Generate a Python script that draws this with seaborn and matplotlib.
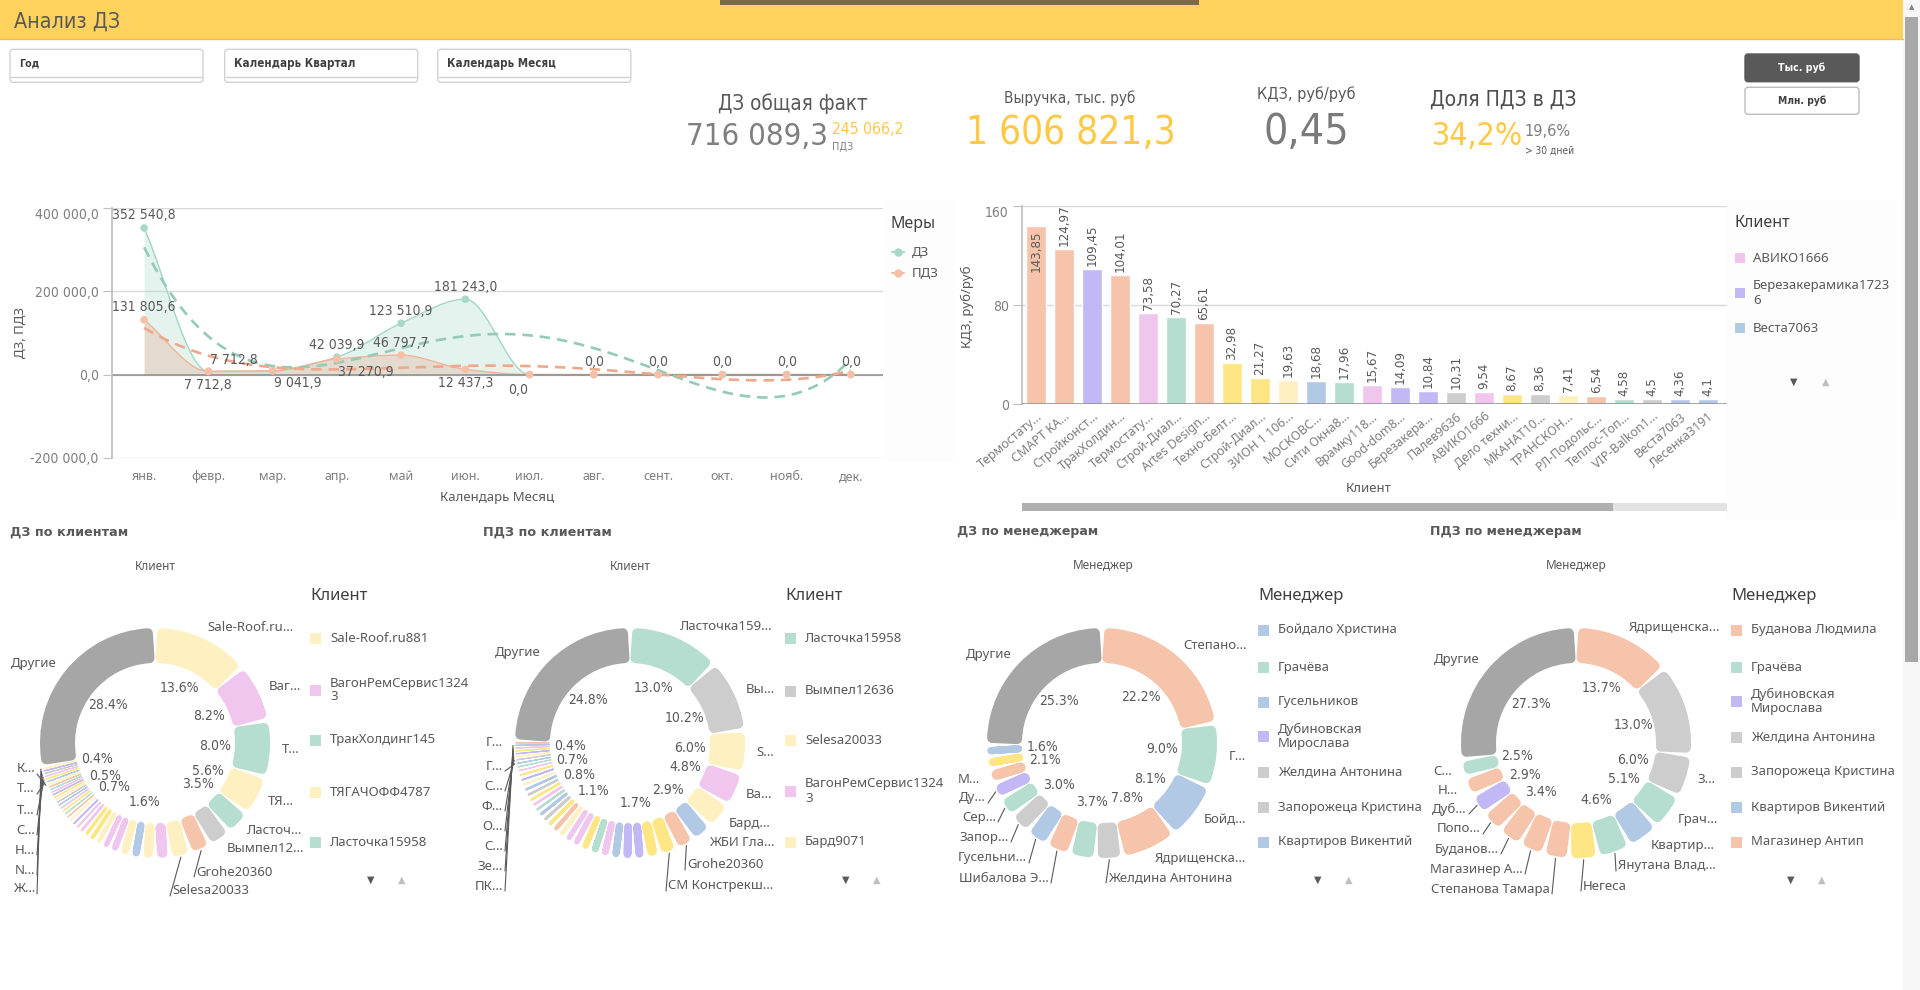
import os
import numpy as np
import pandas as pd
import matplotlib
matplotlib.use('Agg')
import matplotlib.pyplot as plt
import seaborn as sns
from matplotlib import font_manager as fm
from matplotlib.patches import Rectangle, FancyBboxPatch

W, H = 1920, 990

# ---------------- data ----------------
kpi_dz_total = 716089.3
kpi_pdz_total = 245066.2
kpi_revenue = 1606821.3
kpi_kdz = 0.45
kpi_pdz_share = 34.2
kpi_pdz_30 = 19.6

filters = ['Год', 'Календарь Квартал', 'Календарь Месяц']

months = ['янв.', 'февр.', 'мар.', 'апр.', 'май', 'июн.', 'июл.', 'авг.', 'сент.', 'окт.', 'нояб.', 'дек.']
dz_month = [352540.8, 7712.8, 9041.9, 42039.9, 123510.9, 181243.0, 0.0, 0.0, 0.0, 0.0, 0.0, 0.0]
pdz_month = [131805.6, 7712.8, 9041.9, 37270.9, 46797.7, 12437.3, 0.0, 0.0, 0.0, 0.0, 0.0, 0.0]
# where each value label sits: a=above, b=below, ar/br=right of point, bl=left of point
dz_label_pos = ['a', 'b', 'br', 'a', 'a', 'a', 'bl', '', '', '', '', '']
pdz_label_pos = ['a', 'ar', '', 'br', 'a', 'b', '', 'a', 'a', 'a', 'a', 'a']

bar_clients = ['Термостату…', 'СМАРТ КА…', 'Стройконст…', 'ТракХолдин…', 'Термостату…',
               'Строй-Диал…', 'Artes Design…', 'Техно-Белт…', 'Строй-Диал…', 'ЗИОН 1 106…',
               'МОСКОВС…', 'Сити Окна8…', 'Врамку118…', 'Good-dom8…', 'Березакера…',
               'Палев9636', 'АВИКО1666', 'Дело техни…', 'МКАНАТ10…', 'ТРАНСКОН…',
               'РЛ-Подольс…', 'Теплос-Топ…', 'VIP-Balkon1…', 'Веста7063', 'Лесенка3191']
bar_kdz = [143.85, 124.97, 109.45, 104.01, 73.58, 70.27, 65.61, 32.98, 21.27, 19.63,
           18.68, 17.96, 15.67, 14.09, 10.84, 10.31, 9.54, 8.67, 8.36, 7.41,
           6.54, 4.58, 4.5, 4.36, 4.1]
bar_colors = 'sa sa pu sa pk gn sa ye ye ly bl gn pk pu pu gy pk ye gy ly sa gn gy bl bl'.split()
bar_legend = [('АВИКО1666', 'pk'), ('Березакерамика1723\n6', 'pu'), ('Веста7063', 'bl')]

# ДЗ по клиентам (clockwise from 12 o'clock, share in %)
dz_cli_values = [13.6, 8.2, 8.0, 5.6, 3.5, 3.2, 2.9, 2.9, 2.1, 1.9, 1.6, 1.6, 1.4, 1.2, 1.1,
                 1.0, 0.9, 0.8, 0.7, 0.7, 0.6, 0.6, 0.5, 0.5, 0.5, 0.5,
                 0.4, 0.4, 0.4, 0.4, 0.4, 0.4, 0.4, 0.4, 0.4, 0.4, 0.4, 0.4, 0.35, 0.35, 28.4]
dz_cli_colors = ('ly pk gn ly gn gy sa ly pk ly bl ly pk pk ly ye ye pk pk pu ly sa gn ye pk bl '
                 'gy ly ye pu pk gn sa ly bl ye pk gy pu ly dg').split()
dz_cli_pct = [0, 1, 2, 3, 4, 10, 18, 25, 37, 40]
dz_cli_names = {0: 'Sale-Roof.ru…', 1: 'Ваг…', 2: 'Т…', 3: 'ТЯ…', 4: 'Ласточ…', 5: 'Вымпел12…', 40: 'Другие'}
dz_cli_lead_names = {6: 'Grohe20360', 7: 'Selesa20033', 33: 'К…', 34: 'Т…', 35: 'Т…', 36: 'С…',
                     37: 'Н…', 38: 'N…', 39: 'Ж…'}
dz_cli_legend = [('Sale-Roof.ru881', 'ly'), ('ВагонРемСервис1324\n3', 'pk'), ('ТракХолдинг145', 'gn'),
                 ('ТЯГАЧОФФ4787', 'ly'), ('Ласточка15958', 'gn')]

# ПДЗ по клиентам
pdz_cli_values = [13.0, 10.2, 6.0, 4.8, 3.8, 2.9, 2.6, 2.5, 2.0, 1.7, 1.7, 1.6, 1.5, 1.5, 1.4, 1.3,
                  1.2, 1.1, 1.1, 1.0, 0.9, 0.9, 0.8, 0.8, 0.8, 0.8, 0.8, 0.7, 0.7, 0.7,
                  0.6, 0.5, 0.5, 0.5, 0.4, 0.4, 0.4, 0.4, 0.35, 0.35, 24.8]
pdz_cli_colors = ('gn gy ly pk ly bl sa ye ye pu pu bl pk gn ye pk pk ly sa ye '
                  'gy bl gn pk ye gy bl ly pu ye pk gn bl gy ly pu ye pk bl sa dg').split()
pdz_cli_pct = [0, 1, 2, 3, 5, 9, 17, 23, 29, 37, 40]
pdz_cli_names = {0: 'Ласточка159…', 1: 'Вы…', 2: 'S…', 3: 'Ва…', 4: 'Бард…', 5: 'ЖБИ Гла…',
                 39: 'Г…', 40: 'Другие'}
pdz_cli_lead_names = {6: 'Grohe20360', 7: 'СМ Констрекш…', 32: 'Г…', 33: 'С…', 34: 'Ф…', 35: 'О…',
                      36: 'С…', 37: 'Зе…', 38: 'ПК…'}
pdz_cli_legend = [('Ласточка15958', 'gn'), ('Вымпел12636', 'gy'), ('Selesa20033', 'ly'),
                  ('ВагонРемСервис1324\n3', 'pk'), ('Бард9071', 'ly')]

# ДЗ по менеджерам
dz_man_values = [22.2, 9.0, 8.1, 7.8, 3.8, 3.7, 3.4, 3.2, 3.0, 2.8, 2.3, 2.1, 1.7, 1.6, 25.3]
dz_man_colors = 'sa gn bl sa gy gn sa bl gy gn pu sa ye bl dg'.split()
dz_man_pct = [0, 1, 2, 3, 5, 8, 11, 13, 14]
dz_man_names = {0: 'Степано…', 1: 'Г…', 2: 'Бойд…', 3: 'Ядрищенска…', 11: 'М…', 14: 'Другие'}
dz_man_lead_names = {4: 'Желдина Антонина', 6: 'Шибалова Э…', 7: 'Гусельни…', 8: 'Запор…',
                     9: 'Сер…', 10: 'Ду…'}
dz_man_legend = [('Бойдало Христина', 'bl'), ('Грачёва', 'gn'), ('Гусельников', 'bl'),
                 ('Дубиновская\nМирослава', 'pu'), ('Желдина Антонина', 'gy'),
                 ('Запорожеца Кристина', 'gy'), ('Квартиров Викентий', 'bl')]

# ПДЗ по менеджерам
pdz_man_values = [13.7, 13.0, 6.0, 5.1, 4.5, 4.6, 4.1, 3.6, 3.5, 3.4, 3.1, 2.9, 2.7, 2.5, 27.3]
pdz_man_colors = 'sa gy gy gn bl gn ye sa sa sa sa pu sa gn dg'.split()
pdz_man_pct = [0, 1, 2, 3, 5, 9, 11, 13, 14]
pdz_man_names = {0: 'Ядрищенска…', 2: 'З…', 3: 'Грач…', 4: 'Квартир…', 12: 'Н…', 13: 'С…', 14: 'Другие'}
pdz_man_lead_names = {5: 'Янутана Влад…', 6: 'Негеса', 7: 'Степанова Тамара', 8: 'Магазинер А…',
                      9: 'Буданов…', 10: 'Попо…', 11: 'Дуб…'}
pdz_man_legend = [('Буданова Людмила', 'sa'), ('Грачёва', 'gn'), ('Дубиновская\nМирослава', 'pu'),
                  ('Желдина Антонина', 'gy'), ('Запорожеца Кристина', 'gy'),
                  ('Квартиров Викентий', 'bl'), ('Магазинер Антип', 'sa')]

# ---------------- style ----------------
PAL = {'sa': '#F6C4AA', 'pk': '#F0C6EE', 'pu': '#C1B8F5', 'gn': '#B5DDD0', 'ye': '#FFE685',
       'ly': '#FFF0C2', 'bl': '#B2C9E5', 'gy': '#CDCDCD', 'dg': '#A6A6A6'}
DARK = '#595959'
GRAY = '#7F7F7F'
YELLOW = '#FFC845'

sns.set_theme(style='white')
plt.rcParams['font.family'] = ['Noto Sans', 'DejaVu Sans']
plt.rcParams['axes.unicode_minus'] = False


def font_file(candidates):
    files = {os.path.basename(f.fname): f.fname for f in fm.fontManager.ttflist}
    for c in candidates:
        if c in files:
            return files[c]
    return None


cond_reg = font_file(['LiberationSansNarrow-Regular.ttf', 'NotoSans-Condensed.ttf',
                      'NotoSans-SemiCondensed.ttf', 'DejaVuSansCondensed.ttf',
                      'RobotoCondensed-Regular.ttf', 'OpenSans-CondensedRegular.ttf'])
cond_bold = font_file(['LiberationSansNarrow-Bold.ttf', 'NotoSans-CondensedBold.ttf',
                       'NotoSans-SemiCondensedBold.ttf', 'DejaVuSansCondensed-Bold.ttf',
                       'RobotoCondensed-Bold.ttf', 'OpenSans-CondensedBold.ttf'])


def fp_cond(bold=False):
    f = cond_bold if bold else cond_reg
    if f:
        return fm.FontProperties(fname=f)
    return fm.FontProperties(family='DejaVu Sans', weight='bold' if bold else 'normal')


def fp_num():
    if cond_reg:
        return fm.FontProperties(fname=cond_reg)
    return fm.FontProperties(family='DejaVu Sans Mono')


NK = 1.0 if cond_reg else 0.8


def ru(v, d=1):
    return f'{v:,.{d}f}'.replace(',', ' ').replace('.', ',')


def px_rect(l, t, r, b):
    return [l / W, 1 - b / H, (r - l) / W, (b - t) / H]


def smooth(y, xs):
    # monotone cubic through the points, only for drawing the curve
    y = np.asarray(y, float)
    d = np.diff(y)
    m = np.zeros_like(y)
    for k in range(1, len(y) - 1):
        if d[k - 1] * d[k] > 0:
            m[k] = 2 / (1 / d[k - 1] + 1 / d[k])
    m[0], m[-1] = d[0], d[-1]
    i = np.clip(np.floor(xs).astype(int), 0, len(y) - 2)
    t = xs - i
    return ((2 * t**3 - 3 * t**2 + 1) * y[i] + (t**3 - 2 * t**2 + t) * m[i]
            + (-2 * t**3 + 3 * t**2) * y[i + 1] + (t**3 - t**2) * m[i + 1])


fig = plt.figure(figsize=(W / 100, H / 100), dpi=100)
cv = fig.add_axes([0, 0, 1, 1])
cv.set_xlim(0, W)
cv.set_ylim(H, 0)
cv.axis('off')
rend = fig.canvas.get_renderer()


def txt(x, y, s, size, color=DARK, ha='left', va='center', **kw):
    return cv.text(x, y, s, fontsize=size, color=color, ha=ha, va=va, **kw)


def fit(x, y, s, width, color=DARK, ha='left', va='center', fp=None, **kw):
    t = cv.text(x, y, s, color=color, ha=ha, va=va, fontproperties=fp or fp_cond(), **kw)
    t.set_fontsize(10)
    w = t.get_window_extent(renderer=rend).width
    t.set_fontsize(10 * width / w)
    return t


# ---------------- header ----------------
cv.add_patch(Rectangle((0, 0), 1903, 39, color='#FFD25E', lw=0))
cv.plot([0, 1903], [39, 39], color='#E9C15C', lw=1)
cv.add_patch(Rectangle((720, 0), 479, 4.5, color='#7A6A46', lw=0))
fit(13.5, 21.5, 'Анализ ДЗ', 106)

# scrollbar at the right
cv.add_patch(Rectangle((1903, 0), 17, H, color='#F7F7F7', lw=0))
cv.add_patch(Rectangle((1905, 17), 13, 645, color='#A8A8A8', lw=0))
txt(1911.5, 7, '▲', 5, color=GRAY, ha='center', family='DejaVu Sans')

# filter boxes
for x0, name, wd in zip([10, 224.7, 437.8], filters, [20.5, 119.4, 107.8]):
    cv.add_patch(FancyBboxPatch((x0, 49.3), 193, 33, boxstyle='round,pad=0,rounding_size=3',
                                fc='white', ec='#D2D2D2', lw=1))
    cv.plot([x0 + 1, x0 + 192], [77.3, 77.3], color='#D2D2D2', lw=1)
    fit(x0 + 9.5, 64, name, wd, color='#404040', fp=fp_cond(True))

# KPIs
fit(793, 104, 'ДЗ общая факт', 150, ha='center')
fit(686, 136.7, ru(kpi_dz_total), 142, color=GRAY)
fit(831.6, 130, ru(kpi_pdz_total), 71.4, color=YELLOW)
fit(832, 146.7, 'ПДЗ', 21, color=GRAY)
fit(1070, 98.3, 'Выручка, тыс. руб', 131, ha='center')
fit(1071, 132.7, ru(kpi_revenue), 209.6, color=YELLOW, ha='center')
fit(1306, 94, 'КДЗ, руб/руб', 98, ha='center')
fit(1306, 131.7, ru(kpi_kdz, 2), 86, color='#7A7A7A', ha='center')
fit(1503.6, 100, 'Доля ПДЗ в ДЗ', 147, ha='center', color='#4D4D4D')
fit(1431.5, 136.7, ru(kpi_pdz_share) + '%', 90.5, color=YELLOW)
fit(1524.6, 131, ru(kpi_pdz_30) + '%', 46.4, color=GRAY)
fit(1524.6, 150.7, '> 30 дней', 49, color=DARK)

# unit buttons
BX0, BX1 = 1745, 1859
cv.add_patch(FancyBboxPatch((BX0, 54), BX1 - BX0, 27.7, boxstyle='round,pad=0,rounding_size=3',
                            fc='#595959', ec='#595959', lw=1))
cv.add_patch(FancyBboxPatch((BX0, 87.3), BX1 - BX0, 27, boxstyle='round,pad=0,rounding_size=3',
                            fc='white', ec='#BDBDBD', lw=1))
fit((BX0 + BX1) / 2, 68, 'Тыс. руб', 47, color='white', ha='center', fp=fp_cond(True))
fit((BX0 + BX1) / 2, 101, 'Млн. руб', 48, color='#404040', ha='center', fp=fp_cond(True))

# ---------------- line chart ----------------
axl = fig.add_axes(px_rect(112, 208.3, 883, 457.7))
axl.set_facecolor('none')
x = np.arange(len(months))
xs = np.linspace(0, len(months) - 1, 700)
dz_s = smooth(dz_month, xs)
pdz_s = smooth(pdz_month, xs)
axl.fill_between(xs, 0, dz_s, color='#B5DDD0', alpha=0.35, lw=0, zorder=1)
axl.fill_between(xs, 0, pdz_s, color='#E0B9A3', alpha=0.4, lw=0, zorder=1)
axl.plot(xs, dz_s, color='#A3D6C4', lw=1.0, zorder=2)
axl.plot(xs, pdz_s, color='#F4B395', lw=1.0, zorder=2)

dz_trend = np.polyval(np.polyfit(x, dz_month, 4), xs)
pdz_trend = np.polyval(np.polyfit(x, pdz_month, 4), xs)
sns.lineplot(x=xs, y=dz_trend, ax=axl, color='#93CBB7', lw=1.9, linestyle=(0, (4, 2.6)), zorder=3)
sns.lineplot(x=xs, y=pdz_trend, ax=axl, color='#EDA98B', lw=1.9, linestyle=(0, (4, 2.6)), zorder=3)
sns.scatterplot(x=x, y=dz_month, ax=axl, color='#A8D9C7', s=30, edgecolor='none', zorder=5)
sns.scatterplot(x=x, y=pdz_month, ax=axl, color='#F7BFA5', s=30, edgecolor='none', zorder=5)

OFF = {'a': ((0, 4), 'center', 'bottom'), 'b': ((0, -5), 'center', 'top'),
       'ar': ((1, 3), 'left', 'bottom'), 'br': ((1, -4), 'left', 'top'),
       'bl': ((-1, -6), 'right', 'top')}
for vals, poss in [(dz_month, dz_label_pos), (pdz_month, pdz_label_pos)]:
    for i, (v, p) in enumerate(zip(vals, poss)):
        if not p:
            continue
        (dx, dy), ha, va = OFF[p]
        axl.annotate(ru(v), (i, v), xytext=(dx, dy), textcoords='offset points', ha=ha, va=va,
                     fontproperties=fp_num(), fontsize=10 * NK, color=DARK, zorder=6)

axl.set_xlim(-0.5, len(months) - 0.5)
axl.set_ylim(-200000, 400000)
yt = [-200000, 0, 200000, 400000]
axl.set_yticks(yt)
axl.set_yticklabels([ru(v) for v in yt], fontproperties=fp_num(), fontsize=10 * NK, color=GRAY)
axl.get_yticklabels()[-1].set_va('top')
axl.set_xticks(x)
axl.set_xticklabels(months, fontsize=9, color=GRAY)
axl.yaxis.grid(True, color='#D9D9D9', lw=1)
axl.axhline(0, color='#8C8C8C', lw=1.1, zorder=2)
axl.tick_params(axis='y', length=6.5, width=0.8, color='#BFBFBF', pad=3, left=True)
axl.tick_params(axis='x', length=0, pad=9)
for s in ['top', 'right', 'bottom']:
    axl.spines[s].set_visible(False)
axl.spines['left'].set_color('#BFBFBF')
axl.set_xlabel('')
axl.set_ylabel('')
txt(20, 333, 'ДЗ, ПДЗ', 9.5, rotation=90, ha='center')
txt(497.5, 497, 'Календарь Месяц', 9.5, ha='center')

# legend of the line chart
cv.add_patch(Rectangle((883, 200), 72, 262, color='#FDFDFD', lw=0))
txt(891, 224, 'Меры', 11.5, color='#404040')
for yy, name, col in [(252, 'ДЗ', '#A8D9C7'), (273, 'ПДЗ', '#F7BFA5')]:
    cv.plot([892, 904], [yy, yy], color=col, lw=1.5)
    cv.plot([898], [yy], 'o', color=col, ms=5)
    txt(912, yy, name, 9.5)

# ---------------- bar chart ----------------
axb = fig.add_axes(px_rect(1022, 206, 1727, 404.3))
axb.set_facecolor('none')
bar_ids = [f'c{i:02d}' for i in range(len(bar_kdz))]
df_bar = pd.DataFrame({'id': bar_ids, 'kdz': bar_kdz})
sns.barplot(data=df_bar, x='id', y='kdz', hue='id', order=bar_ids, legend=False,
            palette=dict(zip(bar_ids, [PAL[c] for c in bar_colors])), saturation=1,
            width=0.71, ax=axb, zorder=2)
axb.set_xlim(-0.5, 24.67)
axb.set_ylim(0, 160)
units_px = 160 / (404.3 - 206)
for i, v in enumerate(bar_kdz):
    s = f'{v:.2f}'.rstrip('0').rstrip('.').replace('.', ',')
    if v + 3 * units_px + len(s) * 5.8 * units_px > 160:
        axb.text(i, v - 4 * units_px, s, rotation=90, ha='center', va='top',
                 fontproperties=fp_num(), fontsize=9.5 * NK, color=DARK, zorder=4)
    else:
        axb.text(i, v + 3 * units_px, s, rotation=90, ha='center', va='bottom',
                 fontproperties=fp_num(), fontsize=9.5 * NK, color=DARK, zorder=4)
axb.set_yticks([0, 80, 160])
axb.set_yticklabels(['0', '80', '160'], fontproperties=fp_num(), fontsize=10 * NK, color=GRAY)
axb.get_yticklabels()[-1].set_va('top')
axb.set_xticks(range(len(bar_clients)))
axb.set_xticklabels(bar_clients, rotation=40, ha='right', rotation_mode='anchor',
                    fontsize=9, color=GRAY)
axb.yaxis.grid(True, color='#D9D9D9', lw=1, zorder=0)
axb.axhline(0, color='#8C8C8C', lw=1.1, zorder=3)
axb.tick_params(axis='y', length=6.5, width=0.8, color='#BFBFBF', pad=3, left=True)
axb.tick_params(axis='x', length=0, pad=4)
for s in ['top', 'right', 'bottom']:
    axb.spines[s].set_visible(False)
axb.spines['left'].set_color('#BFBFBF')
axb.set_xlabel('')
axb.set_ylabel('')
txt(967, 307, 'КДЗ, руб/руб', 9.5, rotation=90, ha='center')
txt(1369, 489, 'Клиент', 9.5, ha='center')
cv.add_patch(Rectangle((1022, 503), 705, 8, color='#E3E3E3', lw=0))
cv.add_patch(Rectangle((1022, 503), 591, 8, color='#B0B0B0', lw=0))

cv.add_patch(Rectangle((1727, 200), 170, 320, color='#FDFDFD', lw=0))
txt(1735, 223, 'Клиент', 11.5, color='#404040')
for yy, (name, ck) in zip([258, 293, 328], bar_legend):
    cv.add_patch(Rectangle((1735, yy - 5), 10, 10, color=PAL[ck], lw=0))
    txt(1753, yy, name, 9.5, linespacing=1.1)
txt(1794, 382, '▼', 7, color=DARK, ha='center', family='DejaVu Sans')
txt(1826, 382, '▲', 7, color='#BFBFBF', ha='center', family='DejaVu Sans')

# ---------------- donuts ----------------
R_OUT, RING, GAP = 115.0, 35.0, 2.6
R_MID = R_OUT - RING / 2


def donut(cx, cy, values, ckeys, pct_idx, outer, leaders):
    hs = 200
    ax = fig.add_axes(px_rect(cx - hs, cy - hs, cx + hs, cy + hs))
    wedges, _ = ax.pie(values, colors=[PAL[k] for k in ckeys], startangle=90, counterclock=False,
                       radius=R_OUT, wedgeprops=dict(width=RING, linewidth=0))
    ax.set_xlim(-hs, hs)
    ax.set_ylim(-hs, hs)
    ax.axis('off')
    dirs = []
    for i, w in enumerate(wedges):
        t1, t2 = w.theta1, w.theta2
        ang = np.radians((t1 + t2) / 2)
        ux, uy = np.cos(ang), np.sin(ang)
        dirs.append((ux, uy))
        # rounded segment: shrink the wedge, then stroke it with round joins
        span = np.radians(t2 - t1) * R_MID
        c = float(np.clip((span - GAP) / 2, 0.6, 5.0))
        sh = np.degrees((GAP / 2 + c) / R_MID)
        a, b = t1 + sh, t2 - sh
        if b - a < 0.02:
            mid = (t1 + t2) / 2
            a, b = mid - 0.01, mid + 0.01
        w.set_theta1(a)
        w.set_theta2(b)
        w.set_radius(R_OUT - c)
        w.set_width(RING - 2 * c)
        w.set_edgecolor(w.get_facecolor())
        w.set_linewidth(2 * c * 0.72)
        w.set_joinstyle('round')
        if i in pct_idx:
            ax.text(60 * ux, 60 * uy, f'{values[i]:.1f}%', ha='center', va='center',
                    fontproperties=fp_num(), fontsize=10 * NK, color=DARK)
        if i in outer:
            ax.text((R_OUT + 12) * ux, (R_OUT + 12) * uy, outer[i], ha='left' if ux > 0 else 'right',
                    va='center', fontsize=9.5, color=DARK)
    for i, s, dx, dy, ha in leaders:
        ux, uy = dirs[i]
        ex = dx - 2 if ha == 'left' else dx + 2
        ax.plot([(R_OUT + 2) * ux, ex], [(R_OUT + 2) * uy, -dy - 5], color=DARK, lw=0.8)
        ax.text(dx, -dy, s, ha=ha, va='center', fontsize=9.5, color=DARK)
    return ax


def leaders_of(names, spots):
    return [(i, names[i], dx, dy, ha) for i, (dx, dy, ha) in zip(sorted(names), spots)]


donut(155, 743, dz_cli_values, dz_cli_colors, dz_cli_pct, dz_cli_names,
      leaders_of(dz_cli_lead_names, [(41, 129, 'left'), (17, 148, 'left'),
                                     (-120, 26, 'right'), (-120, 46, 'right'), (-120, 67, 'right'),
                                     (-120, 87, 'right'), (-120, 107, 'right'), (-120, 127, 'right'),
                                     (-120, 146, 'right')]))
donut(630, 743, pdz_cli_values, pdz_cli_colors, pdz_cli_pct, pdz_cli_names,
      leaders_of(pdz_cli_lead_names, [(57, 122, 'left'), (38, 143, 'left'),
                                      (-127, 23, 'right'), (-127, 43, 'right'), (-127, 63, 'right'),
                                      (-127, 83, 'right'), (-127, 103, 'right'), (-127, 123, 'right'),
                                      (-127, 143, 'right')]))
donut(1102, 743, dz_man_values, dz_man_colors, dz_man_pct, dz_man_names,
      leaders_of(dz_man_lead_names, [(6, 135, 'left'), (-53, 135, 'right'), (-75, 115, 'right'),
                                     (-93, 94, 'right'), (-106, 74, 'right'), (-116, 55, 'right')]))
donut(1576, 743, pdz_man_values, pdz_man_colors, pdz_man_pct, pdz_man_names,
      leaders_of(pdz_man_lead_names, [(42, 123, 'left'), (7, 143, 'left'), (-26, 146, 'right'),
                                      (-53, 126, 'right'), (-77, 106, 'right'), (-95, 86, 'right'),
                                      (-109, 66, 'right')]))

sections = [
    (10, 'ДЗ по клиентам', 118, 155, 'Клиент', 310, dz_cli_legend, [638, 690, 740, 792, 842], 371),
    (483, 'ПДЗ по клиентам', 129, 630, 'Клиент', 785, pdz_cli_legend, [638, 691, 740, 791, 842], 846),
    (957, 'ДЗ по менеджерам', 142, 1103, 'Менеджер', 1258, dz_man_legend,
     [630, 667, 702, 736, 772, 807, 842], 1318),
    (1430, 'ПДЗ по менеджерам', 153, 1576, 'Менеджер', 1731, pdz_man_legend,
     [630, 667, 701, 737, 772, 807, 842], 1791),
]
for tx, title, tw, subx, dim, lx, items, ys, arx in sections:
    fit(tx, 532, title, tw, fp=fm.FontProperties(family='DejaVu Sans', weight='bold'))
    txt(subx, 566, dim, 8.5, ha='center')
    txt(lx, 596, dim, 12, color='#404040')
    for yy, (name, ck) in zip(ys, items):
        cv.add_patch(Rectangle((lx, yy - 5.5), 11, 11, color=PAL[ck], lw=0))
        txt(lx + 20, yy, name, 9.5, linespacing=1.1)
    txt(arx, 880, '▼', 7, color=DARK, ha='center', family='DejaVu Sans')
    txt(arx + 31, 880, '▲', 7, color='#BFBFBF', ha='center', family='DejaVu Sans')

fig.savefig('out.png', dpi=100, facecolor='white')
